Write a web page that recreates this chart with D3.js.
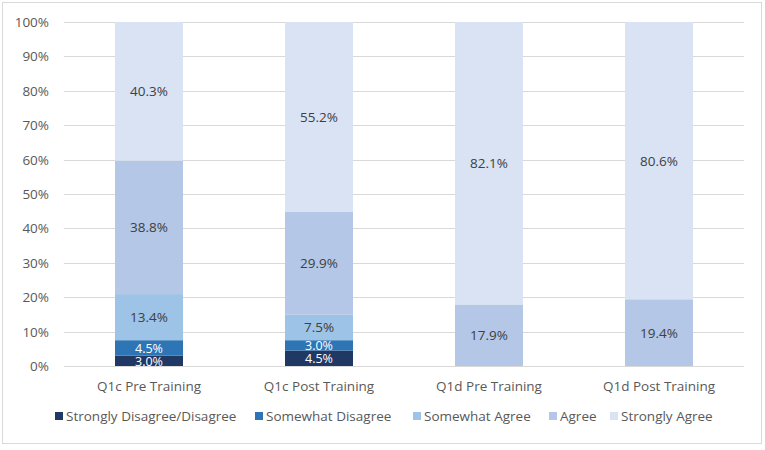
<!DOCTYPE html>
<html>
<head>
<meta charset="utf-8">
<script src="https://cdn.jsdelivr.net/npm/d3@7"></script>
<style>
  body { margin: 0; background: #fff; }
  text { font-family: "Open Sans", "Noto Sans", sans-serif; }
</style>
</head>
<body>
<svg id="chart" width="765" height="450"></svg>
<script>
var categories = ['Q1c Pre Training', 'Q1c Post Training', 'Q1d Pre Training', 'Q1d Post Training']
var seriesNames = ['Strongly Disagree/Disagree', 'Somewhat Disagree', 'Somewhat Agree', 'Agree', 'Strongly Agree']
var stronglyDisagree = [3.0, 4.5, 0, 0]
var somewhatDisagree = [4.5, 3.0, 0, 0]
var somewhatAgree = [13.4, 7.5, 0, 0]
var agree = [38.8, 29.9, 17.9, 19.4]
var stronglyAgree = [40.3, 55.2, 82.1, 80.6]
var yTicks = [0, 10, 20, 30, 40, 50, 60, 70, 80, 90, 100]

var colors = ['#203864', '#2e75b6', '#9dc3e6', '#b4c7e7', '#dae3f3']
var labelColors = ['#ffffff', '#ffffff', '#404040', '#404040', '#404040']

var svg = d3.select('#chart')

// outer frame
svg.append('rect')
  .attr('x', 2.5).attr('y', 2.5)
  .attr('width', 759).attr('height', 441)
  .attr('fill', '#fff')
  .attr('stroke', '#d9d9d9')

var x = d3.scaleBand()
  .domain(categories)
  .range([64, 744])
  .paddingInner(0.6)
  .paddingOuter(0.3)

var y = d3.scaleLinear()
  .domain([0, 100])
  .range([366, 22])

// gridlines
svg.append('g').selectAll('line')
  .data(yTicks)
  .join('line')
  .attr('x1', 64).attr('x2', 744)
  .attr('y1', function (d) { return Math.round(y(d)) + 0.5 })
  .attr('y2', function (d) { return Math.round(y(d)) + 0.5 })
  .attr('stroke', '#d9d9d9')
  .attr('stroke-width', 1)

// y labels
svg.append('g').selectAll('text')
  .data(yTicks)
  .join('text')
  .attr('x', 49)
  .attr('y', function (d) { return y(d) + 5 })
  .attr('text-anchor', 'end')
  .attr('font-size', 13.5)
  .attr('fill', '#595959')
  .text(function (d) { return d + '%' })

var rows = categories.map(function (c, i) {
  return {
    cat: c,
    s0: stronglyDisagree[i],
    s1: somewhatDisagree[i],
    s2: somewhatAgree[i],
    s3: agree[i],
    s4: stronglyAgree[i]
  }
})
var stack = d3.stack().keys(['s0', 's1', 's2', 's3', 's4'])(rows)

var layers = svg.append('g').selectAll('g')
  .data(stack)
  .join('g')
  .attr('fill', function (d, i) { return colors[i] })

layers.selectAll('rect')
  .data(function (d) { return d })
  .join('rect')
  .attr('x', function (d) { return x(d.data.cat) })
  .attr('width', x.bandwidth())
  .attr('y', function (d) { return y(Math.min(d[1], 100)) })
  .attr('height', function (d) { return y(d[0]) - y(Math.min(d[1], 100)) })

// value labels
stack.forEach(function (layer, li) {
  svg.append('g').selectAll('text')
    .data(layer.filter(function (d) { return d[1] - d[0] > 0 }))
    .join('text')
    .attr('x', function (d) { return x(d.data.cat) + x.bandwidth() / 2 })
    .attr('y', function (d) { return y((d[0] + Math.min(d[1], 100)) / 2) + 5 })
    .attr('text-anchor', 'middle')
    .attr('font-size', function (d) { return d[1] - d[0] < 5 ? 12.5 : 13.5 })
    .attr('fill', labelColors[li])
    .text(function (d) { return (d[1] - d[0]).toFixed(1) + '%' })
})

// x labels
svg.append('g').selectAll('text')
  .data(categories)
  .join('text')
  .attr('x', function (d) { return x(d) + x.bandwidth() / 2 })
  .attr('y', 391)
  .attr('text-anchor', 'middle')
  .attr('font-size', 13.5)
  .attr('fill', '#595959')
  .text(function (d) { return d })

// legend
var legendX = [55, 255, 413, 549, 610]
var legend = svg.append('g').selectAll('g')
  .data(seriesNames)
  .join('g')
  .attr('transform', function (d, i) { return 'translate(' + legendX[i] + ',419)' })
legend.append('rect')
  .attr('x', 0).attr('y', -7)
  .attr('width', 8).attr('height', 8)
  .attr('fill', function (d, i) { return colors[i] })
legend.append('text')
  .attr('x', 11)
  .attr('y', 1.5)
  .attr('font-size', 13.5)
  .attr('fill', '#595959')
  .text(function (d) { return d })
</script>
</body>
</html>
